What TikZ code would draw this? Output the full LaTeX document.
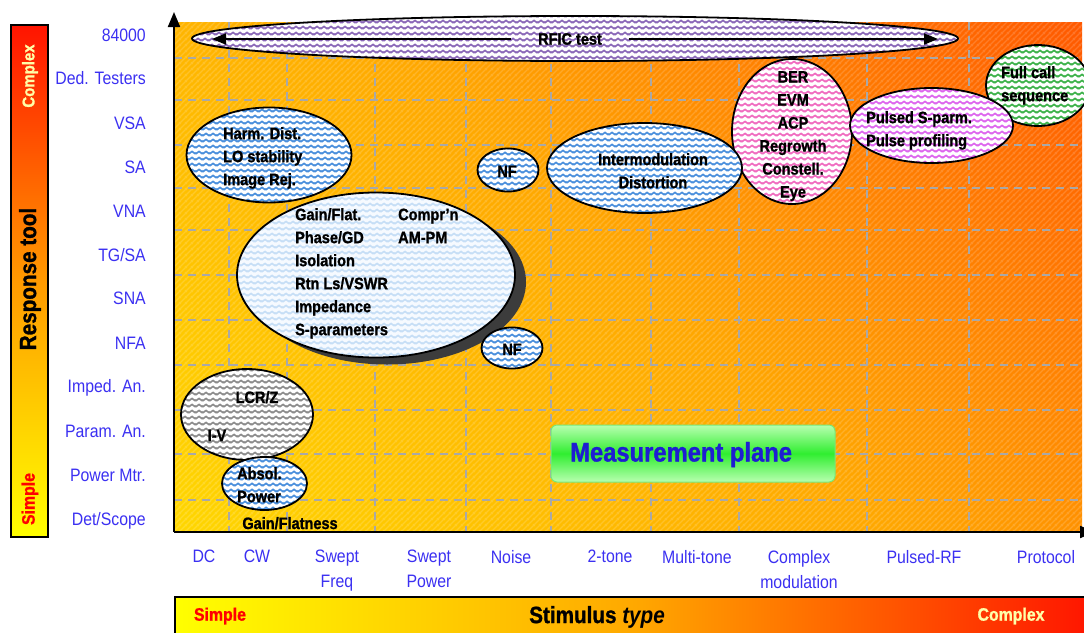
\documentclass[tikz,border=0pt]{standalone}
\usepackage{fontspec}
\setmainfont[FakeStretch=0.88, BoldFeatures={FakeBold=1.2}]{Liberation Sans}
\usetikzlibrary{shapes.geometric,arrows.meta,patterns,shadings}

\definecolor{lblue}{HTML}{3B30F2}
\definecolor{mpblue}{HTML}{1E1ED2}
\definecolor{gridgray}{HTML}{A8A8A8}
\definecolor{zblue}{HTML}{4A8FDC}
\definecolor{zlight}{HTML}{C6DEF6}
\definecolor{zbg}{HTML}{F6FAFF}
\definecolor{zgray}{HTML}{8C8C8C}
\definecolor{zpurple}{HTML}{8A68B8}
\definecolor{zpink}{HTML}{F06CC0}
\definecolor{zmag}{HTML}{DD66EE}
\definecolor{zgreen}{HTML}{3DB24A}
\definecolor{cplx}{HTML}{FFFFA8}
\definecolor{shadowgray}{HTML}{3C3C3C}
\definecolor{sh0}{HTML}{FFFF00}
\definecolor{sh1}{HTML}{FFD600}
\definecolor{sh2}{HTML}{FFA800}
\definecolor{sh3}{HTML}{FF5A00}
\definecolor{sh4}{HTML}{FF1A00}
\definecolor{barred}{HTML}{FF1400}
\definecolor{barmid}{HTML}{FF9A00}
\definecolor{mpl}{HTML}{B8FFB0}
\definecolor{mpg}{HTML}{30EE30}
\definecolor{mpb}{HTML}{78E878}

\pgfdeclarehorizontalshading{plotbg}{100bp}{color(0bp)=(sh0); color(15bp)=(sh1); color(50bp)=(sh2); color(85bp)=(sh3); color(100bp)=(sh4)}

\pgfdeclarepatternformonly{zig}{\pgfqpoint{0pt}{0pt}}{\pgfqpoint{6.5pt}{5.5pt}}{\pgfqpoint{6.5pt}{5.5pt}}{%
  \pgfsetlinewidth{1.8pt}%
  \pgfpathmoveto{\pgfqpoint{-3.25pt}{3.8pt}}%
  \pgfpathlineto{\pgfqpoint{0pt}{1.5pt}}%
  \pgfpathlineto{\pgfqpoint{3.25pt}{3.8pt}}%
  \pgfpathlineto{\pgfqpoint{6.5pt}{1.5pt}}%
  \pgfpathlineto{\pgfqpoint{9.75pt}{3.8pt}}%
  \pgfusepath{stroke}}

\pgfdeclarepatternformonly{stripes}{\pgfqpoint{0pt}{0pt}}{\pgfqpoint{6pt}{6pt}}{\pgfqpoint{6pt}{6pt}}{%
  \pgfsetlinewidth{1.3pt}%
  \pgfpathmoveto{\pgfqpoint{-1pt}{-1pt}}\pgfpathlineto{\pgfqpoint{7pt}{7pt}}%
  \pgfpathmoveto{\pgfqpoint{-1pt}{5pt}}\pgfpathlineto{\pgfqpoint{1pt}{7pt}}%
  \pgfpathmoveto{\pgfqpoint{5pt}{-1pt}}\pgfpathlineto{\pgfqpoint{7pt}{1pt}}%
  \pgfusepath{stroke}}

\tikzset{
  blob/.style={ellipse, draw=black, line width=1.8pt, inner sep=0pt},
  zz/.style 2 args={preaction={fill=#1}, pattern=zig, pattern color=#2},
  btxt/.style={font=\bfseries\fontsize{16.5}{23}\selectfont, inner sep=0pt, align=left, text=black},
  ctxt/.style={btxt, align=center},
  ylab/.style={font=\fontsize{18}{20}\selectfont, text=lblue, anchor=base east, inner sep=0pt},
  xlab/.style={font=\fontsize{18}{25}\selectfont, text=lblue, anchor=north, align=center, inner sep=0pt},
  gridline/.style={gridgray, line width=2pt, dash pattern=on 8pt off 6pt},
  axisline/.style={black, line width=2pt, -{Triangle[length=15pt,width=12pt]}},
  rficarrow/.style={black, line width=2pt, -{Triangle[length=14pt,width=11pt]}},
  bartxt/.style={font=\bfseries\fontsize{18}{20}\selectfont, inner sep=0pt}
}

\begin{document}
\begin{tikzpicture}[x=1pt,y=-1pt]
\useasboundingbox (0,0) rectangle (1084,632);
\fill[white] (0,0) rectangle (1084,632);

% left bar: response tool
\node[draw=black, line width=1.5pt, minimum width=37pt, minimum height=512pt, inner sep=0pt,
      top color=barred, bottom color=sh0, middle color=barmid] (leftbar) at (29.5,281) {};
\node[bartxt, font=\bfseries\fontsize{17}{20}\selectfont, text=cplx, rotate=90] (lbcomplex) at (30,76) {Complex};
\node[bartxt, font=\bfseries\fontsize{23.5}{26}\selectfont, text=black, rotate=90] (lbresp) at (30,279) {Response tool};
\node[bartxt, text=red, rotate=90] (lbsimple) at (30,499) {Simple};

% plot background
\shade[shading=plotbg, shading angle=45] (174,22) rectangle (1082,532);
\fill[pattern=stripes, pattern color=white, opacity=0.16] (174,22) rectangle (1082,532);

% grid
\foreach \yy in {58,100,145,188,230,275,320,365,410,454,500}
  \draw[gridline] (174,\yy) -- (1082,\yy);
\foreach \xx in {229,287,375,466,551,651,739,867,969}
  \draw[gridline] (\xx,22) -- (\xx,532);

% axes
\coordinate (O) at (174,532);
\coordinate (ytip) at (174,12);
\coordinate (xtip) at (1095,532);
\draw[axisline] (O) -- (ytip);
\draw[axisline] (O) -- (xtip);

% y labels
\node[ylab] (y1) at (146,41.5) {84000};
\node[ylab] (y2) at (146,84.5) {Ded. Testers};
\node[ylab] (y3) at (146,129.5) {VSA};
\node[ylab] (y4) at (146,173.5) {SA};
\node[ylab] (y5) at (146,217.5) {VNA};
\node[ylab] (y6) at (146,261.5) {TG/SA};
\node[ylab] (y7) at (146,304.5) {SNA};
\node[ylab] (y8) at (146,349.5) {NFA};
\node[ylab] (y9) at (146,392.5) {Imped. An.};
\node[ylab] (y10) at (146,437.5) {Param. An.};
\node[ylab] (y11) at (146,481.5) {Power Mtr.};
\node[ylab] (y12) at (146,525.5) {Det/Scope};

% ellipses
\node[blob, zz={white}{zpurple}, minimum width=766pt, minimum height=45pt] (rficell) at (575,38.5) {};
\node[blob, zz={white}{zblue}, minimum width=165pt, minimum height=95pt] (harm) at (269,155) {};
\node[ellipse, fill=shadowgray, minimum width=278pt, minimum height=165pt, inner sep=0pt] (bigshadow) at (387,282) {};
\node[blob, zz={zbg}{zlight}, minimum width=278pt, minimum height=165pt] (big) at (376,275) {};
\node[blob, zz={white}{zblue}, minimum width=61pt, minimum height=43pt] (nf1) at (508,170) {};
\node[blob, zz={white}{zblue}, minimum width=61pt, minimum height=41pt] (nf2) at (512,348) {};
\node[blob, zz={white}{zpink}, minimum width=120pt, minimum height=145pt] (pink) at (792,131.5) {};
\node[blob, zz={white}{zblue}, minimum width=195pt, minimum height=90pt] (imd) at (644.5,168) {};
\node[blob, zz={white}{zgreen}, minimum width=104pt, minimum height=81pt] (fullcall) at (1038,85.5) {};
\node[blob, zz={white}{zmag}, minimum width=163pt, minimum height=75pt] (pulsed) at (931.5,125.5) {};
\node[blob, zz={white}{zgray}, minimum width=132pt, minimum height=91pt] (lcr) at (247,414.5) {};
\node[blob, zz={white}{zblue}, minimum width=85pt, minimum height=53pt] (absol) at (264.5,483.5) {};

% RFIC test arrow
\node[ctxt, minimum width=117pt] (rfictxt) at (570,39) {RFIC test};
\coordinate (rficL) at (212,39);
\coordinate (rficR) at (938,39);
\draw[rficarrow] (rfictxt.west) -- (rficL);
\draw[rficarrow] (rfictxt.east) -- (rficR);

% texts in ellipses
\node[btxt, anchor=north west] (harmtxt) at (223,127) {Harm. Dist.\\LO stability\\Image Rej.};
\node[btxt, anchor=north west] (bigtxt) at (295,208) {\makebox[103pt][l]{Gain/Flat.}Compr'n\\\makebox[103pt][l]{Phase/GD}AM-PM\\Isolation\\Rtn Ls/VSWR\\Impedance\\S-parameters};
\node[btxt, anchor=base] (nf1txt) at (507,177) {NF};
\node[btxt, anchor=base] (nf2txt) at (512,355) {NF};
\node[ctxt, anchor=north] (imdtxt) at (653,153) {Intermodulation\\Distortion};
\node[ctxt, anchor=north] (pinktxt) at (793,71) {BER\\EVM\\ACP\\Regrowth\\Constell.\\Eye};
\node[btxt, anchor=north west] (pulsedtxt) at (866,111) {Pulsed S-parm.\\Pulse profiling};
\node[btxt, anchor=north west] (fulltxt) at (1001,66) {Full call\\sequence};
\node[btxt, anchor=base] (lcrtxt) at (257,403) {LCR/Z};
\node[btxt, anchor=base] (ivtxt) at (217,441) {I-V};
\node[btxt, anchor=north west] (absoltxt) at (237,467) {Absol.\\Power};
\node[btxt, anchor=base] (gainflat) at (290,529) {Gain/Flatness};

% measurement plane
\node[rounded corners=6pt, draw=mpb, line width=1pt, minimum width=284pt, minimum height=57pt,
      top color=mpl, bottom color=mpl, middle color=mpg] (mplane) at (693,453.5) {};
\node[font=\bfseries\fontsize{27}{30}\selectfont, text=mpblue, anchor=base west, inner sep=0pt] (mptxt) at (570,461.5) {Measurement plane};

% x labels
\node[xlab] (x1) at (204,550) {DC};
\node[xlab] (x2) at (257,550) {CW};
\node[xlab] (x3) at (337,550) {Swept\\Freq};
\node[xlab] (x4) at (429,550) {Swept\\Power};
\node[xlab] (x5) at (511,550) {Noise};
\node[xlab] (x6) at (610,550) {2-tone};
\node[xlab] (x7) at (697,550) {Multi-tone};
\node[xlab] (x8) at (799,550) {Complex\\modulation};
\node[xlab] (x9) at (924,550) {Pulsed-RF};
\node[xlab] (x10) at (1046,550) {Protocol};

% bottom bar: stimulus type
\node[draw=black, line width=1.5pt, minimum width=920pt, minimum height=50pt, inner sep=0pt, anchor=north west,
      left color=sh0, right color=barred, middle color=sh2] (botbar) at (174,596) {};
\node[bartxt, text=red] (bbsimple) at (220,616) {Simple};
\node[bartxt, font=\bfseries\fontsize{23.5}{26}\selectfont, text=black] (bbstim) at (597,617) {Stimulus \textit{type}};
\node[bartxt, text=cplx] (bbcomplex) at (1011,616) {Complex};
\end{tikzpicture}
\end{document}
